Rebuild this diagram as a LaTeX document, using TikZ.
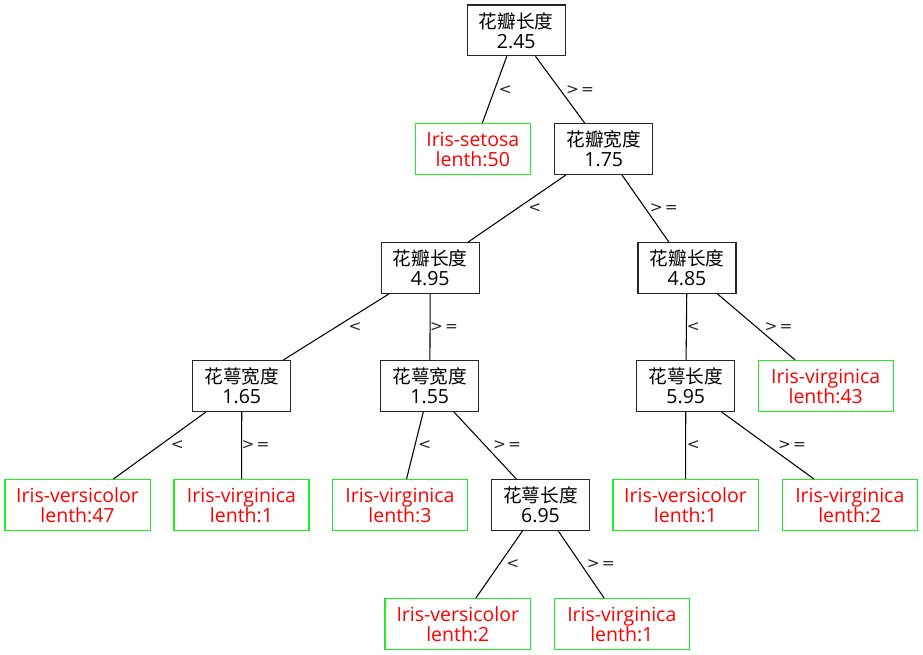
\documentclass[tikz,border=0pt]{standalone}
\usepackage{fontspec}
\setmainfont[Scale=1.045]{Open Sans}
\newfontfamily\cjk{Noto Sans CJK SC}
\newfontfamily\lblfont{DejaVu Sans}
\definecolor{leafedge}{RGB}{30,240,30}
\definecolor{leaftext}{RGB}{255,0,0}
\begin{document}
\begin{tikzpicture}[x=0.75pt,y=-0.75pt,
  box/.style={rectangle, inner sep=0pt, minimum height=38pt, align=center,
    font=\fontsize{14}{15}\selectfont},
  dec/.style={box, draw=black!85, line width=1pt, minimum width=73.5pt, text=black},
  leaf/.style={box, draw=leafedge, line width=1pt, text=leaftext},
  vc/.style={leaf, minimum width=109pt},
  vg/.style={leaf, minimum width=101.25pt},
  st/.style={leaf, minimum width=86.25pt},
  link/.style={draw=black, line width=0.8pt},
  elabel/.style={pos=0.5, inner sep=0pt, font=\lblfont\fontsize{11.5}{13}\selectfont, text=black!85}]
\useasboundingbox (0,0) rectangle (923,655);

% decision nodes
\node[dec] (n0) at (516.3,30.3) {{\cjk 花瓣长度}\\2.45};
\node[dec] (n1) at (603.8,149) {{\cjk 花瓣宽度}\\1.75};
\node[dec] (n2) at (430.3,268) {{\cjk 花瓣长度}\\4.95};
\node[dec] (n3) at (687,268) {{\cjk 花瓣长度}\\4.85};
\node[dec] (n4) at (241.8,386) {{\cjk 花萼宽度}\\1.65};
\node[dec] (n5) at (429.8,386) {{\cjk 花萼宽度}\\1.55};
\node[dec] (n6) at (685.8,386) {{\cjk 花萼长度}\\5.95};
\node[dec] (n7) at (540.5,505) {{\cjk 花萼长度}\\6.95};

% leaves
\node[st] (s50) at (472.8,149) {Iris-setosa\\lenth:50};
\node[vg] (g43) at (825.7,386) {Iris-virginica\\lenth:43};
\node[vc] (c47) at (77.5,505) {Iris-versicolor\\lenth:47};
\node[vg] (g1a) at (241.5,505) {Iris-virginica\\lenth:1};
\node[vg] (g3) at (400,505) {Iris-virginica\\lenth:3};
\node[vc] (c1) at (685.5,505) {Iris-versicolor\\lenth:1};
\node[vg] (g2) at (849.8,505) {Iris-virginica\\lenth:2};
\node[vc] (c2) at (457.8,624) {Iris-versicolor\\lenth:2};
\node[vg] (g1b) at (621.8,624) {Iris-virginica\\lenth:1};

% branches
\draw[link] (n0) -- node[elabel, xshift=8.1pt] (e1) {<} (s50);
\draw[link] (n0) -- node[elabel, xshift=15pt] (e2) {>\kern1.6pt=} (n1);
\draw[link] (n1) -- node[elabel, xshift=13.3pt] (e3) {<} (n2);
\draw[link] (n1) -- node[elabel, xshift=13.8pt] (e4) {>\kern1.6pt=} (n3);
\draw[link] (n2) -- node[elabel, xshift=14.3pt] (e5) {<} (n4);
\draw[link] (n2) -- node[elabel, xshift=10.5pt] (e6) {>\kern1.6pt=} (n5);
\draw[link] (n3) -- node[elabel, xshift=5.2pt] (e7) {<} (n6);
\draw[link] (n3) -- node[elabel, xshift=16.7pt] (e8) {>\kern1.6pt=} (g43);
\draw[link] (n4) -- node[elabel, xshift=13.2pt] (e9) {<} (c47);
\draw[link] (n4) -- node[elabel, xshift=10.5pt] (e10) {>\kern1.6pt=} (g1a);
\draw[link] (n5) -- node[elabel, xshift=7.5pt] (e11) {<} (g3);
\draw[link] (n5) -- node[elabel, xshift=16.4pt] (e12) {>\kern1.6pt=} (n7);
\draw[link] (n6) -- node[elabel, xshift=5.8pt] (e13) {<} (c1);
\draw[link] (n6) -- node[elabel, xshift=18.2pt] (e14) {>\kern1.6pt=} (g2);
\draw[link] (n7) -- node[elabel, xshift=10.2pt] (e15) {<} (c2);
\draw[link] (n7) -- node[elabel, xshift=14.7pt] (e16) {>\kern1.6pt=} (g1b);
\end{tikzpicture}
\end{document}
